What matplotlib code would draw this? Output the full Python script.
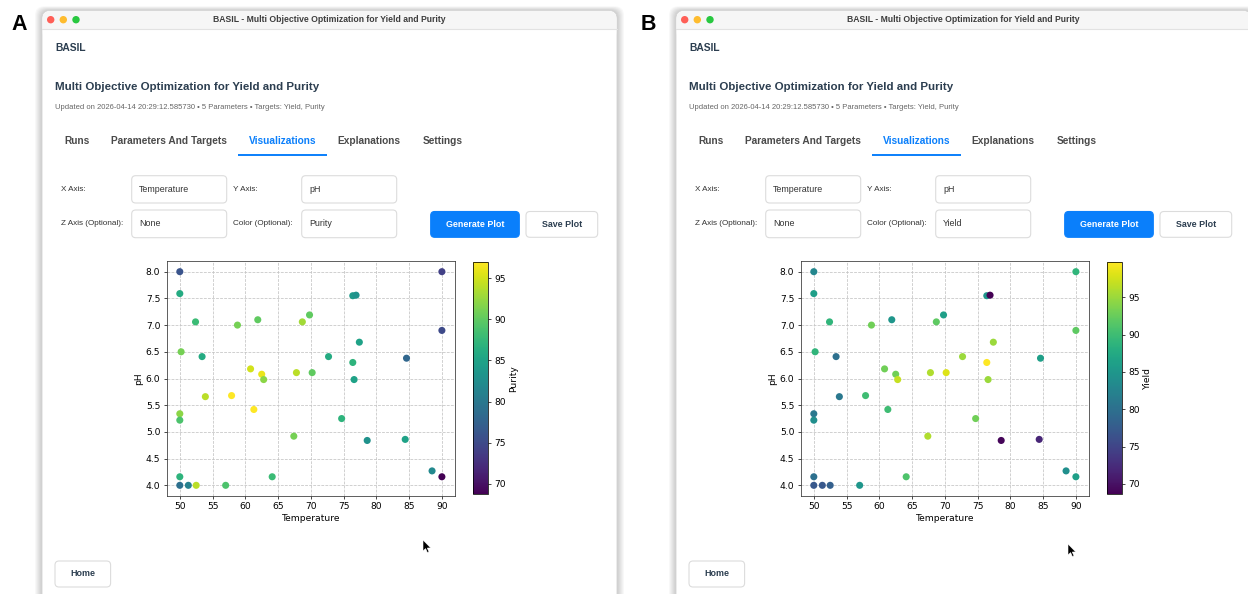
import matplotlib.pyplot as plt
from matplotlib.patches import FancyBboxPatch, Rectangle, Circle, Polygon

W, H = 1248, 594
UI_FONT = "Liberation Sans"
NAVY = "#2c3e50"
BLUE = "#0a7ffb"

# scatter data
temperature = [50.0, 50.0, 52.4, 58.8, 61.9, 68.7, 69.8, 76.4, 76.9, 90.0,
               90.0, 77.4, 84.6, 72.7, 76.4, 76.6, 70.2, 67.8, 62.5, 62.8,
               60.8, 57.9, 61.3, 53.9, 53.4, 50.2, 50.0, 50.0, 74.7, 67.4,
               78.6, 84.4, 88.5, 90.0, 50.0, 50.0, 51.3, 52.5, 57.0, 64.1]
ph = [8.00, 7.59, 7.06, 7.00, 7.10, 7.06, 7.19, 7.55, 7.56, 8.00,
      6.90, 6.68, 6.38, 6.41, 6.30, 5.98, 6.11, 6.11, 6.08, 5.98,
      6.18, 5.68, 5.42, 5.66, 6.41, 6.50, 5.34, 5.22, 5.25, 4.92,
      4.84, 4.86, 4.27, 4.16, 4.16, 4.00, 4.00, 4.00, 4.00, 4.16]
purity = [76, 86, 88, 91, 90, 93, 90, 84, 83, 74,
          75, 85, 78, 86, 87, 85, 90, 94, 96, 92,
          95, 96.95, 96.9, 94, 86, 91, 92, 89, 87, 91,
          83, 85, 82, 68.7, 87, 79, 81, 94, 89, 88]
yield_ = [83, 86, 89, 93, 85, 92, 86, 85, 68.6, 89,
          92, 95, 86, 95, 99.7, 95, 98, 96, 93, 97,
          93, 90, 90, 81, 80, 89, 81, 84, 93, 96,
          69, 72, 84, 86, 80, 77, 77, 78, 85, 91]

panel_labels = ["A", "B"]
window_title = "BASIL - Multi Objective Optimization for Yield and Purity"
heading = "Multi Objective Optimization for Yield and Purity"
updated = "Updated on 2026-04-14 20:29:12.585730 \u2022 5 Parameters \u2022 Targets: Yield, Purity"
tabs = ["Runs", "Parameters And Targets", "Visualizations", "Explanations", "Settings"]
color_fields = ["Purity", "Yield"]

fig = plt.figure(figsize=(W / 100, H / 100), dpi=100)
bg = fig.add_axes([0, 0, 1, 1])
bg.set_xlim(0, W)
bg.set_ylim(H, 0)
bg.axis("off")
renderer = fig.canvas.get_renderer()


def size_for(s, width, weight="normal"):
    t = bg.text(0, 0, s, fontsize=10, family=UI_FONT, weight=weight)
    w = t.get_window_extent(renderer).width
    t.remove()
    return 10 * width / w


def px_axes(x0, y0, x1, y1):
    return fig.add_axes([x0 / W, 1 - y1 / H, (x1 - x0) / W, (y1 - y0) / H])


def ui_text(x, y, s, size, **kw):
    kw.setdefault("va", "center")
    kw.setdefault("color", "#333333")
    bg.text(x, y, s, fontsize=size, family=UI_FONT, **kw)


def box(x0, y0, x1, y1, fc="white", ec="#dcdcdc", r=4, lw=0.8):
    bg.add_patch(FancyBboxPatch((x0, y0), x1 - x0, y1 - y0,
                                boxstyle=f"round,pad=0,rounding_size={r}",
                                fc=fc, ec=ec, lw=lw))


sz_title = size_for(window_title, 231, "bold")
sz_basil = size_for("BASIL", 30.5, "bold")
sz_head = size_for(heading, 262, "bold")
sz_upd = size_for(updated, 269)
sz_tab = size_for(tabs[1], 116.7, "bold")
sz_lab = size_for("Z Axis (Optional):", 62.6)
sz_val = size_for("Temperature", 50)
sz_btn = size_for("Generate Plot", 58, "bold")


def draw_window(ox, field, values):
    top = 10.5
    # shadow
    for k in range(1, 8):
        bg.add_patch(FancyBboxPatch((ox - k, top - k * 0.6), 575 + 2 * k, 700,
                                    boxstyle="round,pad=0,rounding_size=9",
                                    fc="black", ec="none", alpha=0.028))
    box(ox, top, ox + 575, 700, fc="white", ec="#d4d4d4", r=8, lw=0.6)
    box(ox + 0.5, top + 0.5, ox + 574.5, 40, fc="#f6f6f6", ec="none", r=8)
    bg.add_patch(Rectangle((ox + 0.8, 28.7), 573.4, 30, fc="white", ec="none"))
    bg.plot([ox + 0.4, ox + 574.6], [28.7, 28.7], color="#e2e2e2", lw=0.8)
    for dx, c in zip([8.7, 21.3, 34.0], ["#ff5f57", "#febc2e", "#28c840"]):
        bg.add_patch(Circle((ox + dx, 19.7), 3.7, fc=c, ec="none"))
    ui_text(ox + 287.5, 19.3, window_title, sz_title, ha="center",
            weight="bold", color="#3d3d3d")

    ui_text(ox + 13, 47.7, "BASIL", sz_basil, weight="bold", color=NAVY)
    ui_text(ox + 13, 86.7, heading, sz_head, weight="bold", color=NAVY)
    ui_text(ox + 13, 107.3, updated, sz_upd, color="#666666")

    for name, cx in zip(tabs, [35.2, 127.3, 240.8, 327.3, 400.3]):
        ui_text(ox + cx, 141.3, name, sz_tab, ha="center", weight="bold",
                color=BLUE if name == "Visualizations" else "#4a4a4a")
    bg.plot([ox + 196.3, ox + 285.3], [155, 155], color=BLUE, lw=1.4,
            solid_capstyle="butt")

    fields = [("X Axis:", "Temperature", 18.7, 89.7, 175.7, 203),
              ("Y Axis:", "pH", 191.3, 259.7, 175.7, 203),
              ("Z Axis (Optional):", "None", 18.7, 89.7, 210, 237.7),
              ("Color (Optional):", field, 191.3, 259.7, 210, 237.7)]
    for lab, val, lx, bx, y0, y1 in fields:
        ym = (y0 + y1) / 2
        ui_text(ox + lx, ym, lab, sz_lab)
        box(ox + bx, y0, ox + bx + 95, y1)
        ui_text(ox + bx + 7.6, ym, val, sz_val)

    box(ox + 388.7, 211.5, ox + 477.3, 237.3, fc=BLUE, ec=BLUE)
    ui_text(ox + 433, 224.4, "Generate Plot", sz_btn, ha="center",
            weight="bold", color="white")
    box(ox + 484, 211.5, ox + 555.7, 237.3)
    ui_text(ox + 519.9, 224.4, "Save Plot", sz_btn, ha="center",
            weight="bold", color=NAVY)
    box(ox + 13, 561, ox + 68.6, 587)
    ui_text(ox + 40.8, 574, "Home", sz_btn, ha="center", weight="bold",
            color=NAVY)

    # chart
    ax = px_axes(ox + 124.7, 261, ox + 413, 496)
    sc = ax.scatter(temperature, ph, c=values, cmap="viridis", s=26,
                    linewidths=0, zorder=3)
    ax.grid(True, linestyle="--", color="#c4c4c4", linewidth=0.55)
    ax.set_axisbelow(True)
    ax.set_xlabel("Temperature", fontsize=6.6, labelpad=2)
    ax.set_ylabel("pH", fontsize=6.6, labelpad=2)
    ax.tick_params(labelsize=6.6, length=2.3, width=0.5, pad=2.3)
    for sp in ax.spines.values():
        sp.set_linewidth(0.55)
        sp.set_color("#333333")
    cax = px_axes(ox + 431.3, 262.3, ox + 446.3, 494.3)
    cb = fig.colorbar(sc, cax=cax)
    cb.set_label(field, fontsize=6.6, labelpad=2)
    cb.ax.tick_params(labelsize=6.6, length=2.3, width=0.5, pad=2.3)
    cb.outline.set_linewidth(0.55)


for ox, field, vals in zip([42, 676], color_fields, [purity, yield_]):
    draw_window(ox, field, vals)

for (cx, cy), lab in zip([(19.5, 24.5), (648.7, 24.5)], panel_labels):
    bg.text(cx, cy, lab, fontsize=15.5, family=UI_FONT, weight="bold",
            ha="center", va="center", color="black")

# mouse pointers
arrow = [(0, 0), (0, 11), (2.6, 8.6), (4.4, 12.6), (6.0, 11.9), (4.3, 8.0), (7.8, 8.0)]
for tx, ty in [(423, 540), (1068, 544)]:
    bg.add_patch(Polygon([(tx + a, ty + b) for a, b in arrow], closed=True,
                         fc="black", ec="white", lw=0.4, zorder=5))

fig.savefig("out.png", dpi=100)
